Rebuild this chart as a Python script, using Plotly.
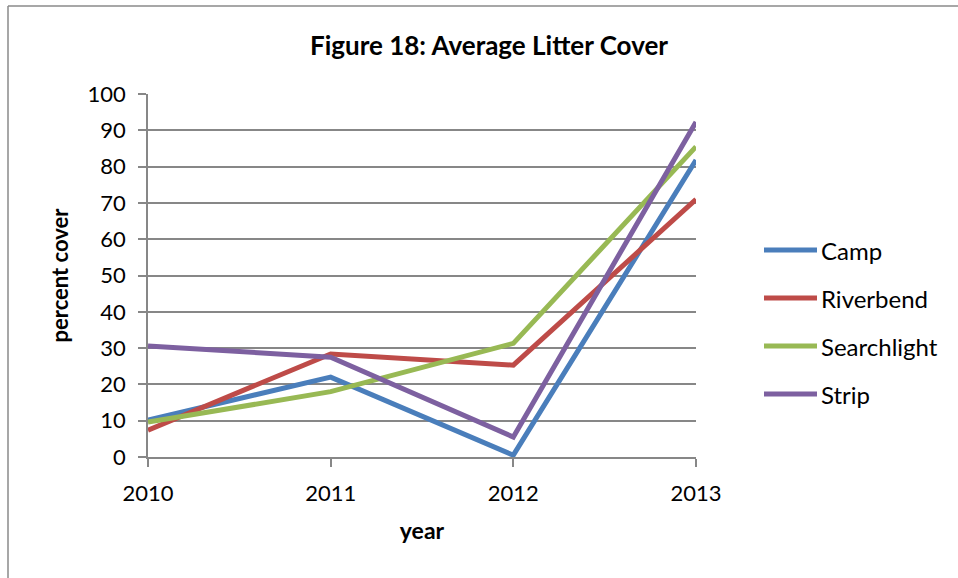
import plotly.graph_objects as go

# Survey years and average litter cover (%) per site
years = [2010, 2011, 2012, 2013]
camp = [10.2, 22.0, 0.5, 81.8]
riverbend = [7.4, 28.4, 25.3, 71.0]
searchlight = [9.6, 18.0, 31.3, 85.5]
strip = [30.6, 27.5, 5.5, 92.3]

series = [
    ("Camp", camp, "#4A7EBB"),
    ("Riverbend", riverbend, "#BE4B48"),
    ("Searchlight", searchlight, "#98B954"),
    ("Strip", strip, "#7D60A0"),
]

FONT = "Lato, 'Open Sans', sans-serif"
GRID = "#878787"

fig = go.Figure()
for name, vals, color in series:
    fig.add_trace(go.Scatter(
        x=years, y=vals, name=name, mode="lines",
        line=dict(color=color, width=5),
        showlegend=False,
    ))

W, H = 958, 578
L, R, T, B = 148, 262, 94, 121
pw, ph = W - L - R, H - T - B

def px(x):
    return (x - L) / pw

def py(y):
    return (H - B - y) / ph

fig.update_layout(
    width=W, height=H,
    margin=dict(l=L, r=R, t=T, b=B),
    paper_bgcolor="white", plot_bgcolor="white",
    font=dict(family=FONT, color="#000000", size=22),
    title=dict(text="<b>Figure 18: Average Litter Cover</b>",
               x=489 / W, xref="container", xanchor="center",
               y=1 - 46 / H, yanchor="middle",
               font=dict(size=26)),
    showlegend=False,
    xaxis=dict(
        range=[2010, 2013], tickvals=years, ticktext=[str(y) for y in years],
        showgrid=False, showline=True, linecolor=GRID, linewidth=1.5,
        ticks="outside", ticklen=8, tickcolor=GRID, tickwidth=1.5,
        tickfont=dict(size=22), zeroline=False, ticklabelstandoff=8,
        title=dict(text="<b>year</b>", font=dict(size=23), standoff=18),
    ),
    yaxis=dict(
        range=[0, 100], dtick=10,
        showgrid=True, gridcolor=GRID, gridwidth=1.5,
        showline=True, linecolor=GRID, linewidth=1.5,
        ticks="outside", ticklen=8, tickcolor=GRID, tickwidth=1.5,
        tickfont=dict(size=22), zeroline=False, ticklabelstandoff=8,
        title=dict(text="<b>percent cover</b>", font=dict(size=22), standoff=13),
    ),
)

# Legend: line sample followed by the series name
leg_y0, leg_step = 250, 48
for i, (name, vals, color) in enumerate(series):
    yy = py(leg_y0 + i * leg_step)
    fig.add_shape(type="line", xref="paper", yref="paper",
                  x0=px(764), x1=px(817), y0=yy, y1=yy,
                  line=dict(color=color, width=5))
    fig.add_annotation(text=name, xref="paper", yref="paper",
                       x=px(819), y=yy, xanchor="left", yanchor="middle",
                       showarrow=False, font=dict(size=24))

# Frame lines around the chart (top and left edges)
fig.add_shape(type="line", xref="paper", yref="paper",
              x0=px(8), x1=px(960), y0=py(6), y1=py(6),
              line=dict(color="#8a8a8a", width=1.5))
fig.add_shape(type="line", xref="paper", yref="paper",
              x0=px(8), x1=px(8), y0=py(6), y1=py(590),
              line=dict(color="#8a8a8a", width=1.5))

fig.write_html("out.html")
